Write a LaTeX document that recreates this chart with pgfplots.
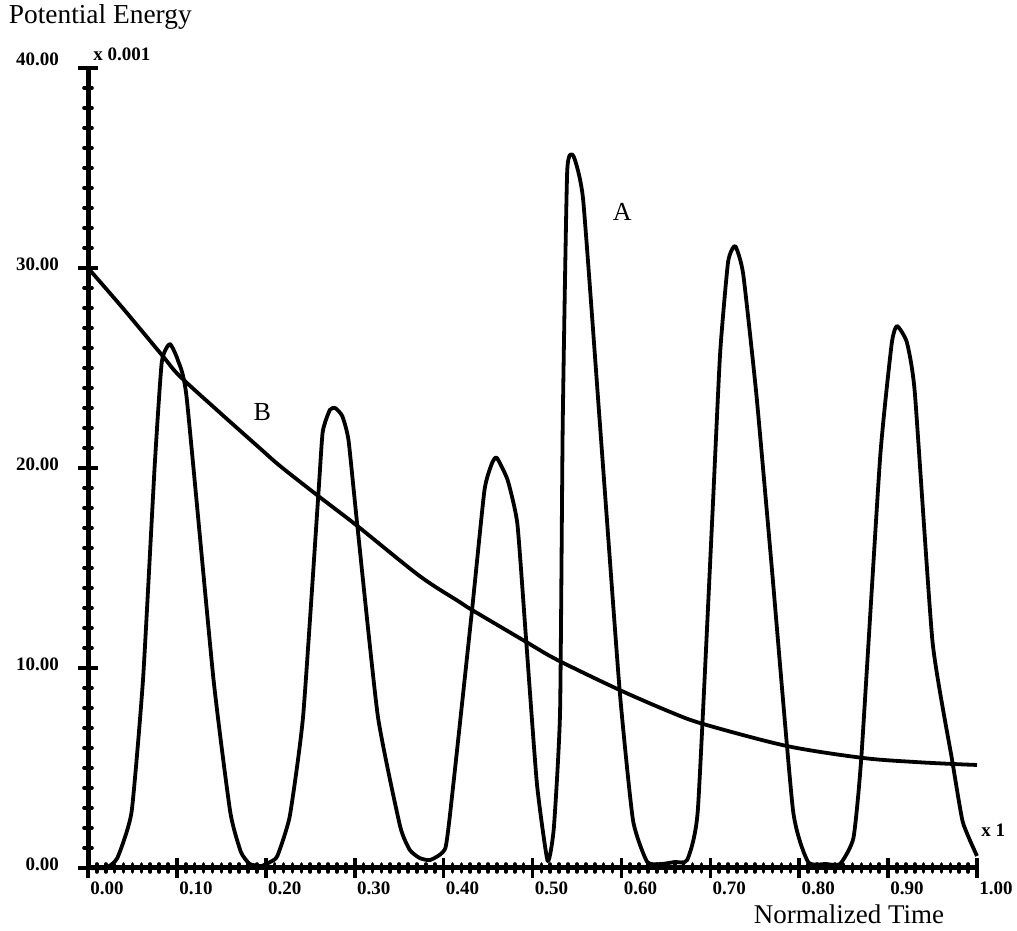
\documentclass[border=0pt]{standalone}
\usepackage{fontspec}
\setmainfont{Liberation Serif}
\usepackage{pgfplots}
\pgfplotsset{compat=1.18}

\begin{document}
\begin{tikzpicture}
\begin{axis}[
  width=444.5pt, height=400pt, scale only axis,
  xmin=0, xmax=1, ymin=0, ymax=40,
  axis lines=left,
  axis line style={-, line width=2.5pt},
  every outer x axis line/.append style={-},
  every outer y axis line/.append style={-},
  xtick={0,0.1,0.2,0.3,0.4,0.5,0.6,0.7,0.8,0.9,1.0},
  xticklabels={0.00,0.10,0.20,0.30,0.40,0.50,0.60,0.70,0.80,0.90,1.00},
  ytick={0,10,20,30,40},
  yticklabels={0.00,10.00,20.00,30.00,\raisebox{5pt}{40.00}},
  minor x tick num=9, minor y tick num=9,
  tick align=center,
  major tick length=10pt, minor tick length=4pt,
  major tick style={line width=1.8pt, black},
  minor tick style={line width=1.8pt, line cap=round, black},
  xticklabel style={font=\fontsize{9.5}{11}\selectfont\bfseries, xshift=9.5pt, yshift=1.5pt},
  yticklabel style={font=\fontsize{9.5}{11}\selectfont\bfseries, yshift=2pt, xshift=-6pt},
  clip=false,
]
% curve A
\addplot[line width=1.9pt, line join=round, mark=none, smooth, tension=0.3] coordinates {
  (0.000,0.0) (0.020,0.0) (0.033,0.5) (0.049,2.8) (0.062,9.5) (0.075,20.1)
  (0.083,25.3) (0.092,26.2) (0.101,25.4) (0.111,23.5) (0.141,9.5) (0.160,2.8)
  (0.172,0.8) (0.182,0.2) (0.195,0.1) (0.205,0.3) (0.213,0.6) (0.227,2.6)
  (0.242,7.6) (0.259,18.6) (0.264,21.8) (0.272,22.9) (0.278,23.0) (0.286,22.6)
  (0.293,21.4) (0.303,17.1) (0.326,7.6) (0.351,2.1) (0.362,0.9) (0.373,0.5)
  (0.385,0.4) (0.402,1.0) (0.411,4.2) (0.432,12.9) (0.446,18.9) (0.455,20.3)
  (0.460,20.5) (0.472,19.4) (0.483,17.2) (0.493,11.3) (0.505,4.2) (0.517,0.35)
  (0.524,2.0) (0.531,7.8) (0.534,22.2) (0.539,34.8) (0.546,35.6) (0.557,33.4)
  (0.576,22.1) (0.598,8.9) (0.613,2.4) (0.629,0.3) (0.645,0.2) (0.660,0.3)
  (0.674,0.4) (0.686,2.9) (0.702,17.3) (0.711,25.7) (0.720,30.3) (0.728,31.1)
  (0.737,29.7) (0.752,23.6) (0.769,15.1) (0.793,2.9) (0.810,0.3) (0.830,0.2)
  (0.846,0.2) (0.861,1.5) (0.870,5.6) (0.891,20.5) (0.904,26.2) (0.910,27.1)
  (0.921,26.3) (0.930,23.8) (0.950,11.3) (0.972,5.4) (0.984,2.3) (1.000,0.6)
};
% curve B
\addplot[line width=1.9pt, line join=round, mark=none, smooth] coordinates {
  (0.000,30.0) (0.039,28.0) (0.084,25.6) (0.103,24.6) (0.150,22.7) (0.193,21.0)
  (0.216,20.1) (0.259,18.6) (0.303,17.1) (0.373,14.6) (0.418,13.3) (0.432,12.9)
  (0.493,11.3) (0.528,10.4) (0.598,8.9) (0.655,7.8) (0.692,7.2) (0.786,6.1)
  (0.872,5.5) (0.930,5.3) (0.973,5.2) (1.000,5.15)
};
\node[font=\fontsize{13}{15}\selectfont] at (axis cs:0.601,32.8) {A};
\node[font=\fontsize{13}{15}\selectfont] at (axis cs:0.196,22.8) {B};
\node[font=\fontsize{13.7}{16}\selectfont, anchor=west] at (axis cs:-0.097,42.55) {Potential Energy};
\node[font=\fontsize{13.5}{15}\selectfont, inner sep=0pt] at (axis cs:0.856,-2.3) {Normalized Time};
\node[font=\fontsize{9.5}{11}\selectfont\bfseries, anchor=west] at (axis cs:-0.002,40.7) {x 0.001};
\node[font=\fontsize{9.5}{11}\selectfont\bfseries, anchor=west] at (axis cs:0.997,1.9) {x 1};
\coordinate (bbl) at (axis cs:-0.099,-3.15);
\coordinate (btr) at (axis cs:1.045,43.4);
\end{axis}
\pgfresetboundingbox
\path (bbl) rectangle (btr);
\end{tikzpicture}
\end{document}
